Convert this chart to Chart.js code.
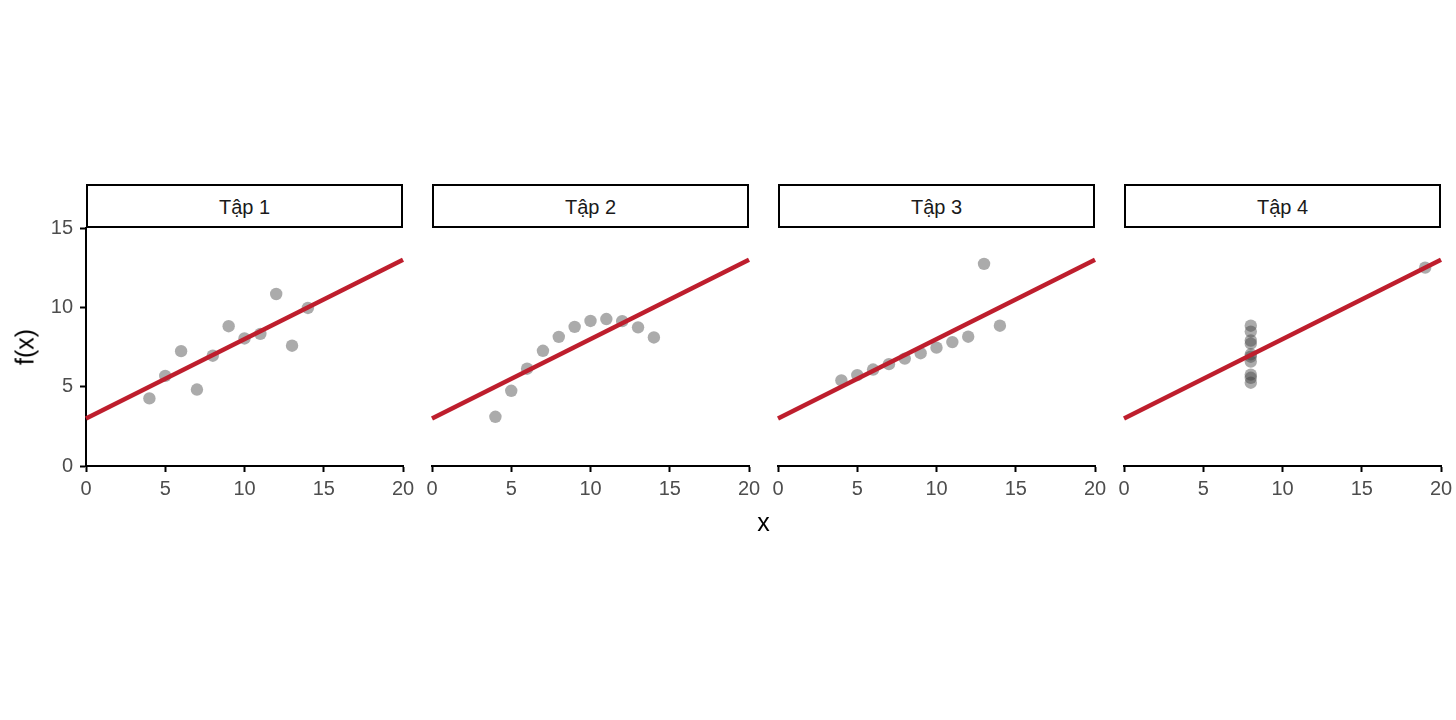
<!DOCTYPE html>
<html>
<head>
<meta charset="utf-8">
<script src="https://cdn.jsdelivr.net/npm/chart.js@4.4.1/dist/chart.umd.min.js"></script>
<style>
  html, body { margin: 0; padding: 0; background: #fff; }
  #fig { position: relative; width: 1456px; height: 720px; overflow: hidden; font-family: "Liberation Sans", Arial, sans-serif; }
  canvas { position: absolute; }
  .strip { position: absolute; box-sizing: border-box; border: 2px solid #000; background: #fff;
           text-align: center; color: #1a1a1a; font-size: 20px; }
  .title { position: absolute; color: #000; font-size: 25px; white-space: nowrap; }
</style>
</head>
<body>
<div id="fig"></div>
<script>
// ---- Data (Anscombe-style quartet) ----
const panelNames = ["Tập 1", "Tập 2", "Tập 3", "Tập 4"];
const x1 = [10, 8, 13, 9, 11, 14, 6, 4, 12, 7, 5];
const y1 = [8.04, 6.95, 7.58, 8.81, 8.33, 9.96, 7.24, 4.26, 10.84, 4.82, 5.68];
const x2 = [10, 8, 13, 9, 11, 14, 6, 4, 12, 7, 5];
const y2 = [9.14, 8.14, 8.74, 8.77, 9.26, 8.10, 6.13, 3.10, 9.13, 7.26, 4.74];
const x3 = [10, 8, 13, 9, 11, 14, 6, 4, 12, 7, 5];
const y3 = [7.46, 6.77, 12.74, 7.11, 7.81, 8.84, 6.08, 5.39, 8.15, 6.42, 5.73];
const x4 = [8, 8, 8, 8, 8, 8, 8, 19, 8, 8, 8];
const y4 = [6.58, 5.76, 7.71, 8.84, 8.47, 7.04, 5.25, 12.50, 5.56, 7.91, 6.89];
const fitIntercept = 3.0;
const fitSlope = 0.5;
const xRange = [0, 20];
const yRange = [0, 15];
const tickStep = 5;
const xAxisTitle = "x";
const yAxisTitle = "f(x)";

const xs = [x1, x2, x3, x4];
const ys = [y1, y2, y3, y4];

// ---- Layout ----
const panelLefts = [86, 432, 778, 1124];
const panelW = 317, panelTop = 228, panelH = 238;
const padL = 20, padT = 20, padR = 20, padB = 20, yAxisW = 50, xAxisH = 40;
const stripTop = 184, stripH = 44;

const fig = document.getElementById('fig');
const FONT = '"Liberation Sans", Arial, sans-serif';

panelNames.forEach((name, i) => {
  const strip = document.createElement('div');
  strip.className = 'strip';
  strip.style.left = panelLefts[i] + 'px';
  strip.style.top = stripTop + 'px';
  strip.style.width = panelW + 'px';
  strip.style.height = stripH + 'px';
  strip.style.lineHeight = (stripH - 2) + 'px';
  strip.textContent = name;
  fig.appendChild(strip);

  const cv = document.createElement('canvas');
  const cw = panelW + padL + yAxisW + padR;
  const ch = panelH + padT + padB + xAxisH;
  cv.width = cw; cv.height = ch;
  cv.style.width = cw + 'px'; cv.style.height = ch + 'px';
  cv.style.left = (panelLefts[i] - padL - yAxisW) + 'px';
  cv.style.top = (panelTop - padT) + 'px';
  fig.appendChild(cv);

  const pts = xs[i].map((v, k) => ({ x: v, y: ys[i][k] }));
  const fit = xRange.map(v => ({ x: v, y: fitIntercept + fitSlope * v }));
  const first = i === 0;

  new Chart(cv, {
    type: 'scatter',
    data: {
      datasets: [
        { data: fit, showLine: true, borderColor: '#BE1E2D', borderWidth: 4.5,
          pointRadius: 0, pointHoverRadius: 0, clip: 3, borderCapStyle: 'butt' },
        { data: pts, pointRadius: 6.2, pointHoverRadius: 6.2, borderWidth: 0,
          backgroundColor: 'rgba(60,60,60,0.43)' }
      ]
    },
    options: {
      responsive: false,
      animation: false,
      events: [],
      layout: { padding: { left: padL, top: padT, right: padR, bottom: padB } },
      plugins: { legend: { display: false }, tooltip: { enabled: false } },
      scales: {
        x: {
          type: 'linear', min: xRange[0], max: xRange[1],
          afterFit: s => { s.height = xAxisH; },
          ticks: { stepSize: tickStep, color: '#4d4d4d', padding: 5,
                   font: { family: FONT, size: 20 }, maxRotation: 0 },
          grid: { display: true, drawOnChartArea: false, drawTicks: true, tickLength: 6,
                  tickColor: '#000', tickWidth: 2 },
          border: { display: true, color: '#000', width: 2 }
        },
        y: {
          type: 'linear', min: yRange[0], max: yRange[1],
          afterFit: s => { s.width = yAxisW; },
          ticks: { display: first, stepSize: tickStep, color: '#4d4d4d', padding: 7,
                   font: { family: FONT, size: 20 } },
          grid: { display: first, drawOnChartArea: false, drawTicks: true, tickLength: 6,
                  tickColor: '#000', tickWidth: 2 },
          border: { display: first, color: '#000', width: 2 }
        }
      }
    }
  });
});

const xt = document.createElement('div');
xt.className = 'title';
xt.textContent = xAxisTitle;
xt.style.left = (panelLefts[0] + (panelLefts[3] + panelW - panelLefts[0]) / 2) + 'px';
xt.style.top = '522px';
xt.style.transform = 'translate(-50%, -50%)';
fig.appendChild(xt);

const yt = document.createElement('div');
yt.className = 'title';
yt.textContent = yAxisTitle;
yt.style.left = '25px';
yt.style.top = (panelTop + panelH / 2) + 'px';
yt.style.transform = 'translate(-50%, -50%) rotate(-90deg)';
fig.appendChild(yt);
</script>
</body>
</html>
